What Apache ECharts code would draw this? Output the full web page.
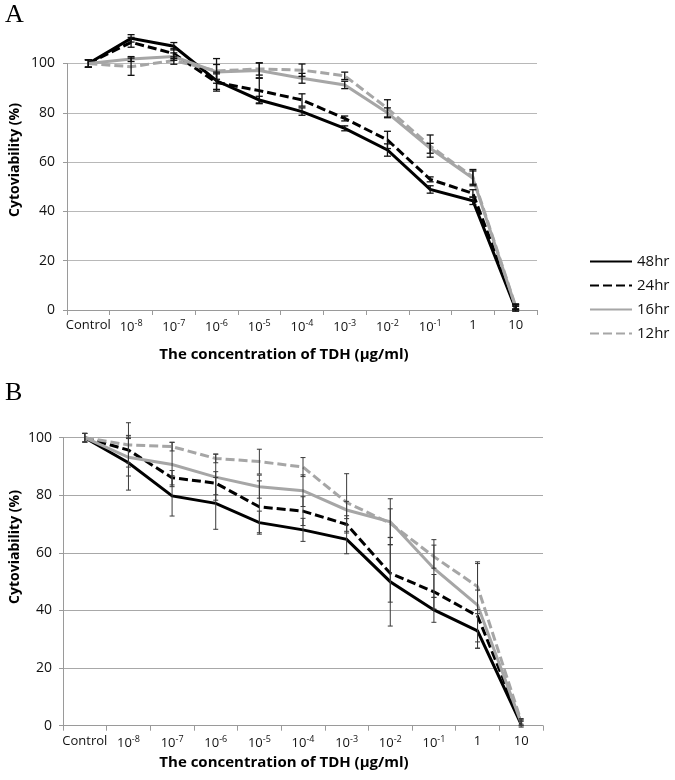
<!DOCTYPE html>
<html><head><meta charset="utf-8">
<script src="https://cdn.jsdelivr.net/npm/echarts@6/dist/echarts.min.js"></script>
<style>html,body{margin:0;padding:0;background:#fff}#c{width:675px;height:780px}</style>
</head><body><div id="c"></div>
<script>
// ---- data ----
const categories = ['Control','10^-8','10^-7','10^-6','10^-5','10^-4','10^-3','10^-2','10^-1','1','10'];
const seriesNames = ['48hr','24hr','16hr','12hr'];
const yTicks = [0, 20, 40, 60, 80, 100];

// Panel A values (%)
const a48 = [100, 110.2, 107.0, 93.0, 85.2, 80.5, 73.7, 64.9, 48.9, 44.3, 0.5];
const a24 = [100, 108.6, 104.0, 92.3, 89.0, 85.2, 77.7, 69.0, 53.0, 47.3, 1.0];
const a16 = [100, 101.8, 102.8, 96.6, 97.2, 94.0, 91.3, 80.0, 65.6, 53.4, 1.2];
const a12 = [100, 98.7, 101.2, 97.0, 97.8, 97.3, 95.0, 81.8, 66.5, 54.0, 1.5];
// Panel A error (+/-)
const a48err = [1.5, 1.5, 1.5, 3.5, 1.5, 1.5, 1.0, 2.5, 1.5, 1.5, 1.0];
const a24err = [1.5, 2.0, 2.0, 3.5, 5.0, 2.5, 1.0, 3.5, 1.0, 1.5, 1.0];
const a16err = [1.5, 1.0, 1.5, 3.0, 3.0, 2.0, 1.5, 2.0, 2.0, 3.0, 1.0];
const a12err = [1.5, 3.5, 1.5, 5.0, 2.5, 2.5, 1.5, 3.5, 4.5, 3.0, 1.0];

// Panel B values (%)
const b48 = [100, 91.3, 79.8, 77.2, 70.5, 68.0, 64.7, 50.0, 40.2, 32.9, 0.5];
const b24 = [100, 95.7, 86.1, 84.2, 76.0, 74.5, 69.9, 52.9, 46.5, 38.1, 1.0];
const b16 = [100, 93.2, 90.7, 86.3, 83.0, 81.6, 74.9, 70.8, 54.6, 41.9, 1.0];
const b12 = [100, 97.5, 96.9, 92.8, 91.7, 89.8, 77.5, 70.3, 58.7, 48.3, 1.5];
// Panel B error (+/-)
const b48err = [1.5, 9.5, 7.0, 9.0, 4.0, 4.0, 5.0, 15.4, 4.3, 6.0, 1.0];
const b24err = [1.5, 4.5, 2.5, 4.0, 9.0, 5.0, 3.0, 10.0, 6.0, 9.0, 1.0];
const b16err = [1.5, 6.5, 7.7, 8.0, 4.0, 5.5, 3.0, 8.0, 10.0, 15.0, 1.0];
const b12err = [1.5, 7.7, 1.5, 1.5, 4.3, 3.3, 10.0, 5.0, 4.0, 8.0, 1.0];

// ---- styles ----
const FONT = 'Open Sans';
const lineStyles = [
  {color:'#000000', type:'solid'},
  {color:'#000000', type:[9,4]},
  {color:'#a6a6a6', type:'solid'},
  {color:'#a6a6a6', type:[9,4]}
];

const chart = echarts.init(document.getElementById('c'));

function labelFmt(v){
  const m = /^(\d+)\^(-?\d+)$/.exec(v);
  return m ? m[1] + '{s|' + m[2] + '}' : v;
}

function xAxisCfg(gi){
  return {
    type:'category', gridIndex:gi, data:categories, boundaryGap:true,
    axisLine:{lineStyle:{color:'#9a9a9a', width:1}},
    axisTick:{show:true, length:5, interval:0, lineStyle:{color:'#9a9a9a'}},
    axisLabel:{interval:0, margin:9, color:'#111', fontFamily:FONT, fontSize:13,
      formatter:labelFmt,
      rich:{s:{fontFamily:FONT, fontSize:9, color:'#111', padding:[0,0,8,0]}}}
  };
}
function yAxisCfg(gi, gridColor, margin){
  return {
    type:'value', gridIndex:gi, min:yTicks[0], max:yTicks[yTicks.length-1], interval:20,
    axisLine:{show:true, lineStyle:{color:'#9a9a9a'}},
    axisTick:{show:true, length:4, lineStyle:{color:'#9a9a9a'}},
    splitLine:{lineStyle:{color:gridColor, width:1}},
    axisLabel:{margin:margin, color:'#111', fontFamily:FONT, fontSize:14}
  };
}

function lineSeries(name, data, idx, gi){
  return {
    type:'line', name:name, xAxisIndex:gi, yAxisIndex:gi, data:data,
    symbol:'none', clip:false, z:2,
    lineStyle:{color:lineStyles[idx].color, type:lineStyles[idx].type, width:3, join:'miter'},
    itemStyle:{color:lineStyles[idx].color},
    emphasis:{disabled:true}
  };
}

function errSeries(vals, errs, gi, color, capHalf, w){
  const d = vals.map((v,i)=>[i, v - errs[i], v + errs[i]]);
  return {
    type:'custom', xAxisIndex:gi, yAxisIndex:gi, data:d, z:3, clip:false,
    encode:{x:0, y:[1,2]}, silent:true,
    renderItem:function(params, api){
      const lo = api.coord([api.value(0), api.value(1)]);
      const hi = api.coord([api.value(0), api.value(2)]);
      const st = {stroke:color, lineWidth:w};
      return {type:'group', children:[
        {type:'line', shape:{x1:lo[0], y1:lo[1], x2:hi[0], y2:hi[1]}, style:st},
        {type:'line', shape:{x1:lo[0]-capHalf, y1:lo[1], x2:lo[0]+capHalf, y2:lo[1]}, style:st},
        {type:'line', shape:{x1:hi[0]-capHalf, y1:hi[1], x2:hi[0]+capHalf, y2:hi[1]}, style:st}
      ]};
    }
  };
}

const A = [a48, a24, a16, a12], Aerr = [a48err, a24err, a16err, a12err];
const B = [b48, b24, b16, b12], Berr = [b48err, b24err, b16err, b12err];

const series = [];
A.forEach((d,i)=>series.push(lineSeries(seriesNames[i], d, i, 0)));
B.forEach((d,i)=>series.push(lineSeries(seriesNames[i], d, i, 1)));
A.forEach((d,i)=>series.push(errSeries(d, Aerr[i], 0, '#111', 3.5, 1.3)));
B.forEach((d,i)=>series.push(errSeries(d, Berr[i], 1, '#3a3a3a', 2.5, 1)));

function txt(t, x, y, opts){
  return Object.assign({type:'text', x:x, y:y, silent:true,
    style:Object.assign({text:t, fill:'#000', fontFamily:FONT, fontSize:15, fontWeight:'bold',
      align:'center', verticalAlign:'middle'}, opts && opts.style || {})},
    opts && opts.extra || {});
}

chart.setOption({
  animation:false,
  backgroundColor:'#ffffff',
  grid:[
    {left:67, top:63.5, width:470, height:246.5, containLabel:false},
    {left:63, top:437.7, width:480, height:288, containLabel:false}
  ],
  xAxis:[xAxisCfg(0), xAxisCfg(1)],
  yAxis:[yAxisCfg(0, '#b8b8b8', 12), yAxisCfg(1, '#a8a8a8', 11)],
  legend:{
    data:seriesNames, orient:'vertical', left:584, top:249,
    itemWidth:42, itemHeight:14, itemGap:9, itemStyle:{opacity:0},
    textStyle:{fontFamily:FONT, fontSize:15, color:'#111'},
    selectedMode:false
  },
  series:series,
  graphic:[
    txt('A', 5, 2, {style:{fontFamily:'Liberation Serif', fontSize:26, fontWeight:'normal', align:'left', verticalAlign:'top'}}),
    txt('B', 5, 380, {style:{fontFamily:'Liberation Serif', fontSize:26, fontWeight:'normal', align:'left', verticalAlign:'top'}}),
    txt('Cytoviability (%)', 15, 160, {style:{fontSize:14}, extra:{rotation:Math.PI/2}}),
    txt('Cytoviability (%)', 15, 547, {style:{fontSize:14}, extra:{rotation:Math.PI/2}}),
    txt('The concentration of TDH (\u03bcg/ml)', 284, 355),
    txt('The concentration of TDH (\u03bcg/ml)', 284, 763)
  ]
});
</script></body></html>
